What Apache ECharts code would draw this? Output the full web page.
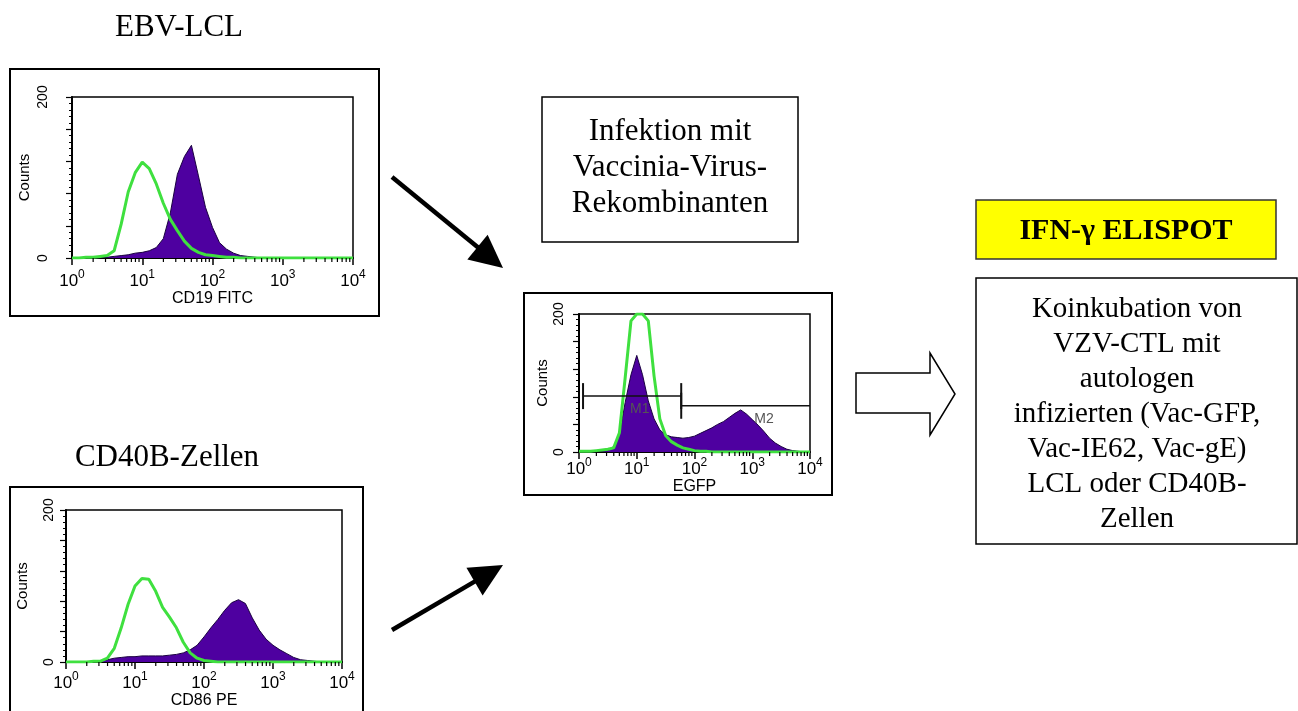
<!DOCTYPE html>
<html><head><meta charset="utf-8">
<script src="https://cdn.jsdelivr.net/npm/echarts@6/dist/echarts.min.js"></script>
<style>html,body{margin:0;padding:0;background:#fff}#c{width:1298px;height:711px}</style>
</head><body><div id="c"></div>
<script>
// ---- data (x = log10 of fluorescence intensity, y = cell counts) ----
const logPositions = [0,0.1,0.2,0.3,0.4,0.5,0.6,0.7,0.8,0.9,1.0,1.1,1.2,1.3,1.4,1.5,1.6,1.7,1.8,1.9,2.0,2.1,2.2,2.3,2.4,2.5,2.6,2.7,2.8,2.9,3.0,3.1,3.2,3.3,3.4,3.5,3.6,3.7,3.8,3.9,4.0];
const decadeExponents = ['0','1','2','3','4'];
const countLabels = [0, 200];

// EBV-LCL, CD19 FITC
const ebvCD19    = [0,0,0,0,0,1,2,3,4,6,7,9,13,24,56,104,126,140,102,63,38,19,11,6,3,2,1,0,0,0,0,0,0,0,0,0,0,0,0,0,0];
const ebvIsotype = [0,0,1,1,2,3,9,42,82,106,119,111,92,68,48,34,21,12,7,4,3,2,1,1,0,0,0,0,0,0,0,0,0,0,0,0,0,0,0,0,0];
// Vaccinia infected, EGFP
const egfpVac     = [0,0,0,0,1,2,8,26,72,112,140,112,74,48,32,25,22,21,20,21,23,27,31,35,40,44,50,56,61,55,47,39,30,20,13,8,4,2,1,0,0];
const egfpControl = [1,1,1,2,3,4,6,28,108,190,200,200,190,110,48,24,15,10,6,4,2,1,1,0,0,0,0,0,0,0,0,0,0,0,0,0,0,0,0,0,0];
// CD40B cells, CD86 PE
const cd40CD86    = [0,0,0,0,0,1,3,5,6,7,7,8,8,8,8,9,10,12,16,22,33,45,56,68,78,82,77,58,42,30,22,16,11,6,3,2,1,0,0,0,0];
const cd40Isotype = [0,0,0,0,1,1,5,18,45,76,100,110,109,93,72,59,45,26,12,5,2,1,0,0,0,0,0,0,0,0,0,0,0,0,0,0,0,0,0,0,0];

// EGFP marker gates: [start log, end log, drawn level (counts), label]
const gateStart = [0.07, 1.77];
const gateEnd   = [1.77, 4.0];
const gateLevel = [81, 67];
const gateNames = ['M1', 'M2'];

// ---- build ----
const PURPLE = '#4e00a0', GREEN = '#3fe03f';
const SANS = 'Liberation Sans', SERIF = 'Liberation Serif';
const pair = (ys) => logPositions.map((x, i) => [x, ys[i]]);

const minorTicks = [];
for (let n = 0; n < 4; n++) for (let k = 2; k <= 9; k++) minorTicks.push([n + Math.log10(k), 0]);

const panels = [
  {grid:{left:72, top:97, width:281, height:161}, xName:'CD19 FITC', filled:ebvCD19, line:ebvIsotype,
   xLabelMargin:11, xNameGap:31, yLabelMargin:22, yNameGap:40},
  {grid:{left:579, top:314, width:231, height:138}, xName:'EGFP', filled:egfpVac, line:egfpControl,
   xLabelMargin:5, xNameGap:22, yLabelMargin:13, yNameGap:29},
  {grid:{left:66, top:510, width:276, height:152}, xName:'CD86 PE', filled:cd40CD86, line:cd40Isotype,
   xLabelMargin:9, xNameGap:30, yLabelMargin:10, yNameGap:36}
];

const grids = [], xAxes = [], yAxes = [], series = [];
panels.forEach((p, i) => {
  grids.push(Object.assign({show:true, borderColor:'#000', borderWidth:1.5, backgroundColor:'#fff'}, p.grid));
  xAxes.push({
    gridIndex:i, type:'value', min:0, max:4, interval:1,
    axisLine:{onZero:false, lineStyle:{color:'#000', width:2}},
    axisTick:{length:7, lineStyle:{color:'#000', width:1.5}},
    splitLine:{show:false},
    axisLabel:{margin:p.xLabelMargin, formatter:(v) => '{b|10}{s|' + decadeExponents[Math.round(v)] + '}',
      rich:{b:{fontSize:17, fontFamily:SANS, color:'#000', lineHeight:21, verticalAlign:'bottom'},
            s:{fontSize:12, fontFamily:SANS, color:'#000', lineHeight:13, verticalAlign:'top'}}},
    name:p.xName, nameLocation:'middle', nameGap:p.xNameGap,
    nameTextStyle:{fontFamily:SANS, fontSize:16, color:'#000'}
  });
  yAxes.push({
    gridIndex:i, type:'value', min:0, max:200, interval:40,
    axisLine:{show:true, lineStyle:{color:'#000', width:2}},
    axisTick:{show:true, length:6, lineStyle:{color:'#000', width:1.2}},
    minorTick:{show:true, splitNumber:5, length:3, lineStyle:{color:'#000', width:1}},
    splitLine:{show:false}, minorSplitLine:{show:false},
    axisLabel:{rotate:90, margin:p.yLabelMargin, fontFamily:SANS, fontSize:14, color:'#000',
      formatter:(v) => countLabels.indexOf(v) >= 0 ? String(v) : ''},
    name:'Counts', nameLocation:'middle', nameRotate:90, nameGap:p.yNameGap,
    nameTextStyle:{fontFamily:SANS, fontSize:15, color:'#000'}
  });
  series.push({
    type:'line', xAxisIndex:i, yAxisIndex:i, data:pair(p.filled), symbol:'none', smooth:false,
    lineStyle:{color:'#1a0040', width:1}, areaStyle:{color:PURPLE, opacity:1}, z:2, silent:true
  });
  series.push({
    type:'line', xAxisIndex:i, yAxisIndex:i, data:pair(p.line), symbol:'none', smooth:false,
    lineStyle:{color:GREEN, width:3}, z:3, silent:true
  });
  series.push({
    type:'custom', xAxisIndex:i, yAxisIndex:i, data:minorTicks, clip:false, silent:true, z:4,
    renderItem:(params, api) => {
      const pt = api.coord([api.value(0), 0]);
      return {type:'line', shape:{x1:pt[0], y1:pt[1], x2:pt[0], y2:pt[1] + 4}, style:{stroke:'#000', lineWidth:1.2}};
    }
  });
});

// marker gates on the EGFP histogram
series.push({
  type:'custom', xAxisIndex:1, yAxisIndex:1, clip:false, silent:true, z:5,
  data:gateStart.map((s, i) => [s, gateEnd[i], gateLevel[i], i]),
  renderItem:(params, api) => {
    const a = api.coord([api.value(0), api.value(2)]);
    const b = api.coord([api.value(1), api.value(2)]);
    const idx = api.value(3);
    const children = [
      {type:'line', shape:{x1:a[0], y1:a[1], x2:b[0], y2:b[1]}, style:{stroke:'#111', lineWidth:1.5}},
      {type:'line', shape:{x1:a[0], y1:a[1] - 13, x2:a[0], y2:a[1] + 13}, style:{stroke:'#111', lineWidth:2}},
      {type:'text', style:{text:gateNames[idx], x:(idx === 0 ? a[0] + 47 : a[0] + 73), y:a[1] + 13,
        fill:'#555', font:'14px "Liberation Sans"', align:'left', verticalAlign:'middle'}}
    ];
    if (idx === 0) children.push({type:'line', shape:{x1:b[0], y1:b[1] - 13, x2:b[0], y2:b[1] + 13}, style:{stroke:'#111', lineWidth:2}});
    return {type:'group', children};
  }
});

// ---- diagram graphics ----
function arrow(sx, sy, ex, ey) {
  const dx = ex - sx, dy = ey - sy, len = Math.hypot(dx, dy);
  const ux = dx / len, uy = dy / len, nx = -uy, ny = ux;
  const L = 33, W = 16;
  const bx = ex - ux * L, by = ey - uy * L;
  return [
    {type:'line', shape:{x1:sx, y1:sy, x2:bx + ux * 2, y2:by + uy * 2}, style:{stroke:'#000', lineWidth:4.5}},
    {type:'polygon', shape:{points:[[ex, ey], [bx + nx * W, by + ny * W], [bx - nx * W, by - ny * W]]}, style:{fill:'#000'}}
  ];
}
const serifText = (text, x, y, size, extra) => Object.assign({type:'text', style:Object.assign({
  text, x, y, fill:'#000', fontFamily:SERIF, fontSize:size, align:'center', verticalAlign:'middle'}, extra || {})});

const graphic = [
  // panel frames
  {type:'rect', shape:{x:10, y:69, width:369, height:247}, style:{fill:'none', stroke:'#000', lineWidth:2}, z:10},
  {type:'rect', shape:{x:524, y:293, width:308, height:202}, style:{fill:'none', stroke:'#000', lineWidth:2}, z:10},
  {type:'rect', shape:{x:10, y:487, width:353, height:240}, style:{fill:'none', stroke:'#000', lineWidth:2}, z:10},
  serifText('EBV-LCL', 179, 28, 31),
  serifText('CD40B-Zellen', 167, 458, 31),
  // Infektion box
  {type:'rect', shape:{x:542, y:97, width:256, height:145}, style:{fill:'#fff', stroke:'#000', lineWidth:1.5}},
  serifText('Infektion mit\nVaccinia-Virus-\nRekombinanten', 670, 168, 31, {lineHeight:36}),
  // IFN box
  {type:'rect', shape:{x:976, y:200, width:300, height:59}, style:{fill:'#ffff00', stroke:'#333', lineWidth:1.5}},
  serifText('IFN-γ ELISPOT', 1126, 231, 30, {fontWeight:'bold'}),
  // Koinkubation box
  {type:'rect', shape:{x:976, y:278, width:321, height:266}, style:{fill:'#fff', stroke:'#000', lineWidth:1.5}},
  serifText('Koinkubation von\nVZV-CTL mit\nautologen\ninfizierten (Vac-GFP,\nVac-IE62, Vac-gE)\nLCL oder CD40B-\nZellen', 1137, 414, 29, {lineHeight:35}),
  // block arrow
  {type:'polygon', shape:{points:[[856,373],[930,373],[930,353],[955,394],[930,435],[930,413],[856,413]]},
   style:{fill:'#fff', stroke:'#000', lineWidth:1.5}}
].concat(arrow(392, 177, 503, 268), arrow(392, 630, 503, 565));

const chart = echarts.init(document.getElementById('c'));
chart.setOption({
  animation:false, backgroundColor:'#fff',
  grid:grids, xAxis:xAxes, yAxis:yAxes, series, graphic
});
</script></body></html>
